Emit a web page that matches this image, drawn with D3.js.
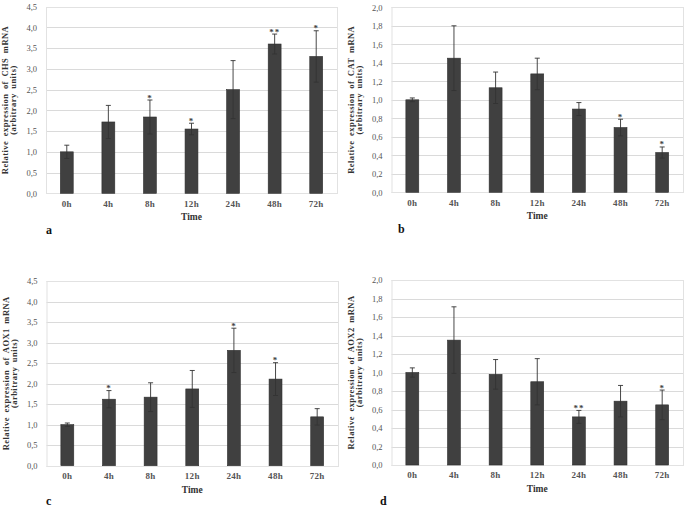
<!DOCTYPE html>
<html>
<head>
<meta charset="utf-8">
<script src="https://cdn.jsdelivr.net/npm/d3@7"></script>
<style>
  body { margin: 0; background: #fff; }
  svg { display: block; }
  .tick text { font-family: "Liberation Serif", serif; font-size: 8.5px; fill: #555; }
</style>
</head>
<body>
<svg id="chart" width="687" height="507"></svg>
<script>
// time points (shared by all four panels)
var times = ["0h", "4h", "8h", "12h", "24h", "48h", "72h"];

// a - CHS
var chsMean = [1.0, 1.72, 1.84, 1.55, 2.5, 3.6, 3.3];
var chsErr  = [0.16, 0.4, 0.41, 0.14, 0.7, 0.24, 0.62];
var chsSig  = ["", "", "*", "*", "", "**", "*"];
// b - CAT
var catMean = [1.0, 1.45, 1.13, 1.28, 0.9, 0.7, 0.43];
var catErr  = [0.02, 0.35, 0.17, 0.17, 0.07, 0.09, 0.06];
var catSig  = ["", "", "", "", "", "*", "*"];
// c - AOX1
var aox1Mean = [1.0, 1.62, 1.67, 1.87, 2.81, 2.11, 1.19];
var aox1Err  = [0.04, 0.21, 0.35, 0.45, 0.54, 0.4, 0.2];
var aox1Sig  = ["", "*", "", "", "*", "*", ""];
// d - AOX2
var aox2Mean = [1.0, 1.35, 0.98, 0.9, 0.52, 0.69, 0.65];
var aox2Err  = [0.05, 0.36, 0.16, 0.25, 0.07, 0.17, 0.16];
var aox2Sig  = ["", "", "", "", "**", "", "*"];

var ticks45 = [0, 0.5, 1, 1.5, 2, 2.5, 3, 3.5, 4, 4.5];
var ticks20 = [0, 0.2, 0.4, 0.6, 0.8, 1, 1.2, 1.4, 1.6, 1.8, 2];

var svg = d3.select("#chart");
var fmt = d => d3.format(".1f")(d).replace(".", ",");

function panel(opt) {
    var g = svg.append("g");
    var x = d3.scaleBand().domain(times).range([opt.x0, opt.x1]).paddingInner(0.69).paddingOuter(0.345);
    var y = d3.scaleLinear().domain([0, opt.max]).range([opt.y1, opt.y0]);

    // gridlines
    g.selectAll(".grid").data(opt.ticks).join("line")
        .attr("x1", opt.x0).attr("x2", opt.x1)
        .attr("y1", d => Math.round(y(d)) + 0.5).attr("y2", d => Math.round(y(d)) + 0.5)
        .attr("stroke", "#dadada").attr("stroke-width", 1);
    // plot border
    g.append("rect")
        .attr("x", opt.x0 + 0.5).attr("y", Math.round(y(opt.max)) + 0.5)
        .attr("width", opt.x1 - opt.x0).attr("height", Math.round(y(0)) - Math.round(y(opt.max)))
        .attr("fill", "none").attr("stroke", "#e2e2e2");

    // y axis labels
    var yAxis = d3.axisLeft(y).tickValues(opt.ticks).tickFormat(fmt).tickSize(0).tickPadding(9);
    g.append("g").attr("transform", "translate(" + opt.x0 + ",0)").call(yAxis)
        .call(s => s.select(".domain").remove());

    // x axis labels
    var xAxis = d3.axisBottom(x).tickSize(0).tickPadding(7);
    g.append("g").attr("transform", "translate(0," + y(0) + ")").call(xAxis)
        .call(s => s.select(".domain").remove())
        .selectAll("text").style("font-weight", "bold").style("font-size", "9px")
        .style("letter-spacing", "0.3px");

    // bars
    g.selectAll(".bar").data(opt.mean).join("rect")
        .attr("x", (d, i) => x(times[i]))
        .attr("y", d => y(d))
        .attr("width", x.bandwidth())
        .attr("height", d => y(0) - y(d))
        .attr("fill", "#404040")
        .attr("stroke", "#2e2e2e").attr("stroke-width", 0.6);

    // error bars
    var cx = i => x(times[i]) + x.bandwidth() / 2;
    var eb = g.selectAll(".err").data(opt.mean).join("g");
    eb.append("line")
        .attr("x1", (d, i) => cx(i)).attr("x2", (d, i) => cx(i))
        .attr("y1", (d, i) => y(d + opt.err[i])).attr("y2", (d, i) => y(d - opt.err[i]))
        .attr("stroke", "#333").attr("stroke-width", 0.9);
    eb.append("line")
        .attr("x1", (d, i) => cx(i) - 2.5).attr("x2", (d, i) => cx(i) + 2.5)
        .attr("y1", (d, i) => y(d + opt.err[i])).attr("y2", (d, i) => y(d + opt.err[i]))
        .attr("stroke", "#333").attr("stroke-width", 0.9);
    eb.append("line")
        .attr("x1", (d, i) => cx(i) - 2.5).attr("x2", (d, i) => cx(i) + 2.5)
        .attr("y1", (d, i) => y(d - opt.err[i])).attr("y2", (d, i) => y(d - opt.err[i]))
        .attr("stroke", "#333").attr("stroke-width", 0.9);

    // significance stars
    g.selectAll(".sig").data(opt.mean).join("text")
        .attr("x", (d, i) => cx(i))
        .attr("y", (d, i) => y(d + opt.err[i]) + 0.5)
        .attr("text-anchor", "middle")
        .style("font-family", "Liberation Serif, serif").style("font-size", "9px")
        .style("font-weight", "bold").style("fill", "#404040")
        .style("letter-spacing", "1px")
        .text((d, i) => opt.sig[i]);

    // axis titles
    g.append("text")
        .attr("x", (opt.x0 + opt.x1) / 2).attr("y", y(0) + 27)
        .attr("text-anchor", "middle")
        .style("font-family", "Liberation Serif, serif").style("font-size", "9.5px")
        .style("font-weight", "bold").style("fill", "#333")
        .text("Time");

    var ym = (y(0) + y(opt.max)) / 2;
    var yt = g.append("text")
        .attr("transform", "translate(" + (opt.x0 - 38) + "," + ym + ") rotate(-90)")
        .attr("text-anchor", "middle")
        .style("font-family", "Liberation Serif, serif").style("font-size", "8.5px")
        .style("font-weight", "bold").style("fill", "#333")
        .style("letter-spacing", "0.45px").style("word-spacing", "2px");
    yt.append("tspan").attr("x", 0).attr("y", 0).text("Relative expression of " + opt.gene + " mRNA");
    yt.append("tspan").attr("x", 0).attr("dy", 8).text("(arbitrary units)");

    // panel letter
    g.append("text")
        .attr("x", opt.lx).attr("y", opt.ly)
        .style("font-family", "Liberation Serif, serif").style("font-size", "12px")
        .style("font-weight", "bold").style("fill", "#111")
        .text(opt.letter);
}

panel({ x0: 46, x1: 337, y0: 6.7, y1: 193.3, max: 4.5, ticks: ticks45,
        mean: chsMean, err: chsErr, sig: chsSig, gene: "CHS", letter: "a", lx: 46, ly: 234 });
panel({ x0: 391.5, x1: 683, y0: 7.3, y1: 192.3, max: 2, ticks: ticks20,
        mean: catMean, err: catErr, sig: catSig, gene: "CAT", letter: "b", lx: 398, ly: 233 });
panel({ x0: 46.5, x1: 338, y0: 281, y1: 465.7, max: 4.5, ticks: ticks45,
        mean: aox1Mean, err: aox1Err, sig: aox1Sig, gene: "AOX1", letter: "c", lx: 46, ly: 505 });
panel({ x0: 391.5, x1: 683, y0: 280, y1: 465, max: 2, ticks: ticks20,
        mean: aox2Mean, err: aox2Err, sig: aox2Sig, gene: "AOX2", letter: "d", lx: 380, ly: 505 });
</script>
</body>
</html>
